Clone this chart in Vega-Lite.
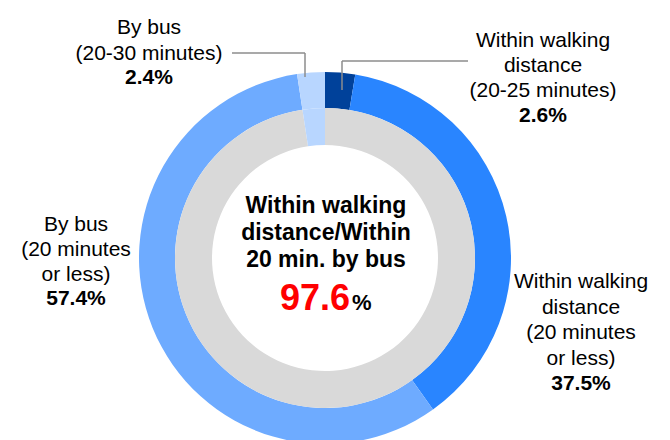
{
  "$schema": "https://vega.github.io/schema/vega-lite/v6.json",
  "width": 670,
  "height": 440,
  "autosize": {"type": "none"},
  "padding": 0,
  "config": {"view": {"stroke": null}, "text": {"font": "Liberation Sans", "color": "#000000"}},
  "datasets": {
    "outer": [
      {"segment": "Within walking distance (20-25 minutes)", "label": ["Within walking", "distance", "(20-25 minutes)"], "pct": 2.6},
      {"segment": "Within walking distance (20 minutes or less)", "label": ["Within walking", "distance", "(20 minutes", "or less)"], "pct": 37.5},
      {"segment": "By bus (20 minutes or less)", "label": ["By bus", "(20 minutes", "or less)"], "pct": 57.4},
      {"segment": "By bus (20-30 minutes)", "label": ["By bus", "(20-30 minutes)"], "pct": 2.4}
    ],
    "inner": [
      {"segment": "Within walking distance/Within 20 min. by bus", "label": ["Within walking", "distance/Within", "20 min. by bus"], "pct": 97.6},
      {"segment": "By bus (20-30 minutes)", "label": ["By bus", "(20-30 minutes)"], "pct": 2.4}
    ]
  },
  "layer": [
    {
      "data": {"name": "outer"},
      "transform": [{"window": [{"op": "row_number", "as": "seq"}]}],
      "mark": {"type": "arc", "outerRadius": 186, "innerRadius": 150},
      "encoding": {
        "theta": {"field": "pct", "type": "quantitative", "stack": true},
        "order": {"field": "seq", "type": "quantitative"},
        "color": {"field": "segment", "type": "nominal", "legend": null,
          "scale": {"domain": ["Within walking distance (20-25 minutes)", "Within walking distance (20 minutes or less)", "By bus (20 minutes or less)", "By bus (20-30 minutes)", "Within walking distance/Within 20 min. by bus"],
                    "range": ["#00419a", "#2985ff", "#6eabff", "#b8d6ff", "#d9d9d9"]}},
        "x": {"datum": 0, "type": "quantitative", "scale": {"domain": [-325, 345], "nice": false, "zero": false}, "axis": null},
        "y": {"datum": 0, "type": "quantitative", "scale": {"domain": [-182, 258], "nice": false, "zero": false}, "axis": null}
      }
    },
    {
      "data": {"name": "inner"},
      "transform": [{"window": [{"op": "row_number", "as": "seq"}]}],
      "mark": {"type": "arc", "outerRadius": 150, "innerRadius": 113},
      "encoding": {
        "theta": {"field": "pct", "type": "quantitative", "stack": true},
        "order": {"field": "seq", "type": "quantitative"},
        "color": {"field": "segment", "type": "nominal", "legend": null,
          "scale": {"domain": ["Within walking distance (20-25 minutes)", "Within walking distance (20 minutes or less)", "By bus (20 minutes or less)", "By bus (20-30 minutes)", "Within walking distance/Within 20 min. by bus"],
                    "range": ["#00419a", "#2985ff", "#6eabff", "#b8d6ff", "#d9d9d9"]}},
        "x": {"datum": 0, "type": "quantitative", "scale": {"domain": [-325, 345], "nice": false, "zero": false}, "axis": null},
        "y": {"datum": 0, "type": "quantitative", "scale": {"domain": [-182, 258], "nice": false, "zero": false}, "axis": null}
      }
    },
    {
      "data": {"name": "outer"},
      "transform": [{"filter": "datum.segment === 'By bus (20-30 minutes)'"}],
      "mark": {"type": "rule", "color": "#8c8c8c", "strokeWidth": 1.5},
      "encoding": {
        "x": {"datum": -93, "type": "quantitative", "scale": {"domain": [-325, 345], "nice": false, "zero": false}, "axis": null},
        "x2": {"datum": -20},
        "y": {"datum": 205, "type": "quantitative", "scale": {"domain": [-182, 258], "nice": false, "zero": false}, "axis": null}
      }
    },
    {
      "data": {"name": "outer"},
      "transform": [{"filter": "datum.segment === 'By bus (20-30 minutes)'"}],
      "mark": {"type": "rule", "color": "#8c8c8c", "strokeWidth": 1.5},
      "encoding": {
        "x": {"datum": -20, "type": "quantitative", "scale": {"domain": [-325, 345], "nice": false, "zero": false}, "axis": null},
        "y": {"datum": 205, "type": "quantitative", "scale": {"domain": [-182, 258], "nice": false, "zero": false}, "axis": null},
        "y2": {"datum": 181}
      }
    },
    {
      "data": {"name": "outer"},
      "transform": [{"filter": "datum.segment === 'Within walking distance (20-25 minutes)'"}],
      "mark": {"type": "rule", "color": "#8c8c8c", "strokeWidth": 1.5},
      "encoding": {
        "x": {"datum": 17, "type": "quantitative", "scale": {"domain": [-325, 345], "nice": false, "zero": false}, "axis": null},
        "x2": {"datum": 143},
        "y": {"datum": 197, "type": "quantitative", "scale": {"domain": [-182, 258], "nice": false, "zero": false}, "axis": null}
      }
    },
    {
      "data": {"name": "outer"},
      "transform": [{"filter": "datum.segment === 'Within walking distance (20-25 minutes)'"}],
      "mark": {"type": "rule", "color": "#8c8c8c", "strokeWidth": 1.5},
      "encoding": {
        "x": {"datum": 17, "type": "quantitative", "scale": {"domain": [-325, 345], "nice": false, "zero": false}, "axis": null},
        "y": {"datum": 197, "type": "quantitative", "scale": {"domain": [-182, 258], "nice": false, "zero": false}, "axis": null},
        "y2": {"datum": 168}
      }
    },
    {
      "data": {"name": "outer"},
      "transform": [{"filter": "datum.segment === 'By bus (20-30 minutes)'"}],
      "mark": {"type": "text", "fontSize": 21, "lineHeight": 26, "align": "center", "baseline": "alphabetic"},
      "encoding": {
        "text": {"field": "label", "type": "nominal"},
        "x": {"datum": -176, "type": "quantitative", "scale": {"domain": [-325, 345], "nice": false, "zero": false}, "axis": null},
        "y": {"datum": 224, "type": "quantitative", "scale": {"domain": [-182, 258], "nice": false, "zero": false}, "axis": null}
      }
    },
    {
      "data": {"name": "outer"},
      "transform": [{"filter": "datum.segment === 'By bus (20-30 minutes)'"}, {"calculate": "format(datum.pct, '.1f') + '%'", "as": "pctLabel"}],
      "mark": {"type": "text", "fontSize": 21, "fontWeight": "bold", "align": "center", "baseline": "alphabetic"},
      "encoding": {
        "text": {"field": "pctLabel", "type": "nominal"},
        "x": {"datum": -176, "type": "quantitative", "scale": {"domain": [-325, 345], "nice": false, "zero": false}, "axis": null},
        "y": {"datum": 174, "type": "quantitative", "scale": {"domain": [-182, 258], "nice": false, "zero": false}, "axis": null}
      }
    },
    {
      "data": {"name": "outer"},
      "transform": [{"filter": "datum.segment === 'Within walking distance (20-25 minutes)'"}],
      "mark": {"type": "text", "fontSize": 21, "lineHeight": 25, "align": "center", "baseline": "alphabetic"},
      "encoding": {
        "text": {"field": "label", "type": "nominal"},
        "x": {"datum": 218, "type": "quantitative", "scale": {"domain": [-325, 345], "nice": false, "zero": false}, "axis": null},
        "y": {"datum": 211, "type": "quantitative", "scale": {"domain": [-182, 258], "nice": false, "zero": false}, "axis": null}
      }
    },
    {
      "data": {"name": "outer"},
      "transform": [{"filter": "datum.segment === 'Within walking distance (20-25 minutes)'"}, {"calculate": "format(datum.pct, '.1f') + '%'", "as": "pctLabel"}],
      "mark": {"type": "text", "fontSize": 21, "fontWeight": "bold", "align": "center", "baseline": "alphabetic"},
      "encoding": {
        "text": {"field": "pctLabel", "type": "nominal"},
        "x": {"datum": 218, "type": "quantitative", "scale": {"domain": [-325, 345], "nice": false, "zero": false}, "axis": null},
        "y": {"datum": 136, "type": "quantitative", "scale": {"domain": [-182, 258], "nice": false, "zero": false}, "axis": null}
      }
    },
    {
      "data": {"name": "outer"},
      "transform": [{"filter": "datum.segment === 'Within walking distance (20 minutes or less)'"}],
      "mark": {"type": "text", "fontSize": 21, "lineHeight": 25.5, "align": "center", "baseline": "alphabetic"},
      "encoding": {
        "text": {"field": "label", "type": "nominal"},
        "x": {"datum": 256, "type": "quantitative", "scale": {"domain": [-325, 345], "nice": false, "zero": false}, "axis": null},
        "y": {"datum": -30, "type": "quantitative", "scale": {"domain": [-182, 258], "nice": false, "zero": false}, "axis": null}
      }
    },
    {
      "data": {"name": "outer"},
      "transform": [{"filter": "datum.segment === 'Within walking distance (20 minutes or less)'"}, {"calculate": "format(datum.pct, '.1f') + '%'", "as": "pctLabel"}],
      "mark": {"type": "text", "fontSize": 21, "fontWeight": "bold", "align": "center", "baseline": "alphabetic"},
      "encoding": {
        "text": {"field": "pctLabel", "type": "nominal"},
        "x": {"datum": 256, "type": "quantitative", "scale": {"domain": [-325, 345], "nice": false, "zero": false}, "axis": null},
        "y": {"datum": -132, "type": "quantitative", "scale": {"domain": [-182, 258], "nice": false, "zero": false}, "axis": null}
      }
    },
    {
      "data": {"name": "outer"},
      "transform": [{"filter": "datum.segment === 'By bus (20 minutes or less)'"}],
      "mark": {"type": "text", "fontSize": 21, "lineHeight": 25, "align": "center", "baseline": "alphabetic"},
      "encoding": {
        "text": {"field": "label", "type": "nominal"},
        "x": {"datum": -249, "type": "quantitative", "scale": {"domain": [-325, 345], "nice": false, "zero": false}, "axis": null},
        "y": {"datum": 27, "type": "quantitative", "scale": {"domain": [-182, 258], "nice": false, "zero": false}, "axis": null}
      }
    },
    {
      "data": {"name": "outer"},
      "transform": [{"filter": "datum.segment === 'By bus (20 minutes or less)'"}, {"calculate": "format(datum.pct, '.1f') + '%'", "as": "pctLabel"}],
      "mark": {"type": "text", "fontSize": 21, "fontWeight": "bold", "align": "center", "baseline": "alphabetic"},
      "encoding": {
        "text": {"field": "pctLabel", "type": "nominal"},
        "x": {"datum": -249, "type": "quantitative", "scale": {"domain": [-325, 345], "nice": false, "zero": false}, "axis": null},
        "y": {"datum": -47, "type": "quantitative", "scale": {"domain": [-182, 258], "nice": false, "zero": false}, "axis": null}
      }
    },
    {
      "data": {"name": "inner"},
      "transform": [{"filter": "datum.segment === 'Within walking distance/Within 20 min. by bus'"}],
      "mark": {"type": "text", "fontSize": 23, "fontWeight": "bold", "lineHeight": 27, "align": "center", "baseline": "alphabetic"},
      "encoding": {
        "text": {"field": "label", "type": "nominal"},
        "x": {"datum": 1, "type": "quantitative", "scale": {"domain": [-325, 345], "nice": false, "zero": false}, "axis": null},
        "y": {"datum": 45, "type": "quantitative", "scale": {"domain": [-182, 258], "nice": false, "zero": false}, "axis": null}
      }
    },
    {
      "data": {"name": "inner"},
      "transform": [{"filter": "datum.segment === 'Within walking distance/Within 20 min. by bus'"}],
      "mark": {"type": "text", "fontSize": 36, "fontWeight": "bold", "color": "#ff0000", "align": "right", "baseline": "alphabetic"},
      "encoding": {
        "text": {"field": "pct", "type": "quantitative", "format": ".1f"},
        "x": {"datum": 25, "type": "quantitative", "scale": {"domain": [-325, 345], "nice": false, "zero": false}, "axis": null},
        "y": {"datum": -52, "type": "quantitative", "scale": {"domain": [-182, 258], "nice": false, "zero": false}, "axis": null}
      }
    },
    {
      "data": {"name": "inner"},
      "transform": [{"filter": "datum.segment === 'Within walking distance/Within 20 min. by bus'"}],
      "mark": {"type": "text", "fontSize": 22, "fontWeight": "bold", "align": "left", "baseline": "alphabetic"},
      "encoding": {
        "text": {"value": "%"},
        "x": {"datum": 27, "type": "quantitative", "scale": {"domain": [-325, 345], "nice": false, "zero": false}, "axis": null},
        "y": {"datum": -52, "type": "quantitative", "scale": {"domain": [-182, 258], "nice": false, "zero": false}, "axis": null}
      }
    }
  ],
  "resolve": {"scale": {"theta": "independent"}}
}
